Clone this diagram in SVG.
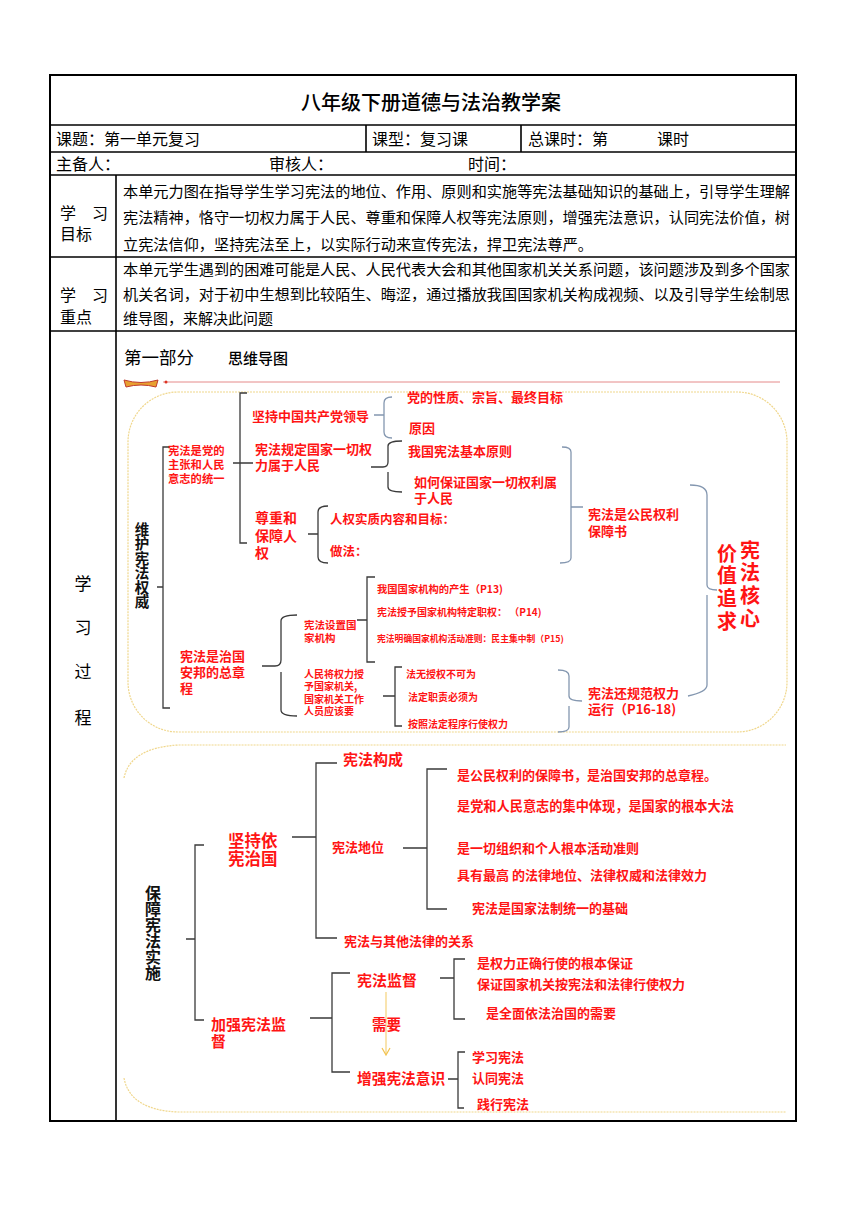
<svg xmlns="http://www.w3.org/2000/svg" width="860" height="1216" viewBox="0 0 860 1216">
<style>
text{font-family:"Noto Sans CJK SC","Liberation Sans",sans-serif;dominant-baseline:central}
.t{fill:#000;font-size:15px}
.hd{fill:#000;font-size:16px}
.r{fill:#ff1414;font-weight:700}
.k{fill:#111;font-weight:700}
.v{writing-mode:vertical-rl;text-orientation:upright;dominant-baseline:central}
.bk{fill:none;stroke:#3a3a3a;stroke-width:1.3}
.bb{fill:none;stroke:#8497b0;stroke-width:1.3}
.frame{fill:none;stroke:#f0d78c;stroke-width:1.2;stroke-dasharray:2 1}
.grid{stroke:#000;stroke-width:1.6}
</style>
<rect width="860" height="1216" fill="#fff"/>

<g id="table">
<rect x="50" y="75" width="746" height="1046" fill="none" stroke="#000" stroke-width="2"/>
<line class="grid" x1="50" y1="125" x2="796" y2="125"/>
<line class="grid" x1="50" y1="152" x2="796" y2="152"/>
<line class="grid" x1="50" y1="175" x2="796" y2="175"/>
<line class="grid" x1="50" y1="257" x2="796" y2="257"/>
<line class="grid" x1="50" y1="331" x2="796" y2="331"/>
<line class="grid" x1="116" y1="175" x2="116" y2="1121"/>
<line class="grid" x1="366" y1="125" x2="366" y2="152"/>
<line class="grid" x1="521" y1="125" x2="521" y2="152"/>
<text x="431" y="101" text-anchor="middle" style="font-size:20px;fill:#000;font-weight:500">八年级下册道德与法治教学案</text>
<text class="hd" x="56" y="138">课题：第一单元复习</text>
<text class="hd" x="372" y="138">课型：复习课</text>
<text class="hd" x="528" y="138">总课时：第</text>
<text class="hd" x="657" y="138">课时</text>
<text class="hd" x="56" y="163">主备人：</text>
<text class="hd" x="269" y="163">审核人：</text>
<text class="hd" x="468" y="163">时间：</text>
<text class="hd" x="60" y="212">学<tspan x="92">习</tspan><tspan x="60" dy="21">目标</tspan></text>
<text class="hd" x="60" y="294">学<tspan x="92">习</tspan><tspan x="60" dy="22">重点</tspan></text>
<text class="t" x="123" y="190" textLength="667" lengthAdjust="spacingAndGlyphs">本单元力图在指导学生学习宪法的地位、作用、原则和实施等宪法基础知识的基础上，引导学生理解</text>
<text class="t" x="123" y="216" textLength="667" lengthAdjust="spacingAndGlyphs">宪法精神，恪守一切权力属于人民、尊重和保障人权等宪法原则，增强宪法意识，认同宪法价值，树</text>
<text class="t" x="123" y="243" textLength="470" lengthAdjust="spacingAndGlyphs">立宪法信仰，坚持宪法至上，以实际行动来宣传宪法，捍卫宪法尊严。</text>
<text class="t" x="123" y="268" textLength="667" lengthAdjust="spacingAndGlyphs">本单元学生遇到的困难可能是人民、人民代表大会和其他国家机关关系问题，该问题涉及到多个国家</text>
<text class="t" x="123" y="293" textLength="667" lengthAdjust="spacingAndGlyphs">机关名词，对于初中生想到比较陌生、晦涩，通过播放我国国家机关构成视频、以及引导学生绘制思</text>
<text class="t" x="123" y="317">维导图，来解决此问题</text>
<text x="83" y="582" text-anchor="middle" style="font-size:17px;fill:#000">学</text>
<text x="83" y="626" text-anchor="middle" style="font-size:17px;fill:#000">习</text>
<text x="83" y="670" text-anchor="middle" style="font-size:17px;fill:#000">过</text>
<text x="83" y="716" text-anchor="middle" style="font-size:17px;fill:#000">程</text>
<text x="124" y="356" style="font-size:17.5px;fill:#000">第一部分</text>
<text x="228" y="357" style="font-size:15px;fill:#000;font-weight:500">思维导图</text>
</g>

<g id="decor">
<line x1="163" y1="382" x2="780" y2="382" stroke="#e58a8a" stroke-width="1"/>
<path d="M124,380 L126,387 Q141,383 156,387 L158,380 Q141,385 124,380 Z" fill="#e8a030" stroke="#c0392b" stroke-width="1"/>
<circle cx="166" cy="382" r="1.5" fill="#d32"/>
<rect class="frame" x="128" y="392" width="659" height="340" rx="50" ry="50"/>
<path class="frame" d="M124,778 Q130,748 178,745 L786,745"/>
<path class="frame" d="M124,1078 Q130,1110 178,1112 L786,1112"/>
</g>

<g id="connectors">
<path class="bk" d="M170,447 L163,447 L163,708 L170,708 M157,587 L163,587"/>
<path class="bk" d="M247,393 L240,393 L240,543 L247,543 M233,463 L253,463"/>
<path class="bb" d="M374,415 L384,415 M392,397 Q384,397 384,403 L384,432 Q384,438 392,438"/>
<path class="bk" d="M371,467 L383,467 Q388,467 388,462 L388,446 Q388,441 402,441 M388,472 L388,487 Q388,492 402,492"/>
<path class="bk" d="M308,534 L318,534 M328,506 Q318,506 318,512 L318,557 Q318,563 328,563"/>
<path class="bb" d="M562,447 Q571,447 571,452 L571,558 Q571,563 560,563 M571,507 L583,507"/>
<path class="bb" d="M690,485 Q707,485 707,495 L707,585 Q707,590 717,590 M707,595 L707,685 Q707,692 688,696"/>
<path class="bk" d="M262,666 L275,666 Q281,666 281,660 L281,621 Q281,615 297,615 M281,672 L281,710 Q281,716 297,716"/>
<path class="bk" d="M357,620 L367,620 M375,577 L367,577 L367,662 L375,662"/>
<path class="bk" d="M383,696 L395,696 M402,667 L395,667 L395,726 L402,726"/>
<path class="bb" d="M558,670 Q569,670 569,676 L569,696 Q569,701 582,701 M569,706 L569,727 Q569,732 558,732"/>
<path class="bk" d="M204,845 L195,845 L195,1020 L204,1020 M186,939 L195,939"/>
<path class="bk" d="M292,837 L316,837 M337,763 L316,763 L316,938 L337,938"/>
<path class="bk" d="M403,848 L427,848 M447,769 L427,769 L427,909 L447,909"/>
<path class="bk" d="M310,1018 L332,1018 M350,973 L332,973 L332,1072 L350,1072"/>
<path class="bk" d="M440,978 L454,978 M465,959 L454,959 L454,1019 L465,1019"/>
<path class="bk" d="M448,1079 L458,1079 M465,1052 L458,1052 L458,1108 L464,1108"/>
<line x1="386" y1="992" x2="386" y2="1054" stroke="#f5d27a" stroke-width="1.2"/>
<path d="M382,1048 L386,1055 L390,1048" fill="none" stroke="#f2c24f" stroke-width="1.2"/>
</g>

<g id="n-weihu"><text class="k v" x="142" y="522" style="font-size:14.5px">维护宪法权威</text></g>
<g id="n-dangzhuzhang"><text class="r" x="168" y="450" style="font-size:11.3px">宪法是党的<tspan x="168" dy="14">主张和人民</tspan><tspan x="168" dy="14">意志的统一</tspan></text></g>
<g id="n-jianchi"><text class="r" x="252" y="415" style="font-size:13px">坚持中国共产党领导</text></g>
<g id="n-xingzhi"><text class="r" x="407" y="396" style="font-size:13px">党的性质、宗旨、最终目标</text></g>
<g id="n-yuanyin"><text class="r" x="409" y="427" style="font-size:13px">原因</text></g>
<g id="n-guiding"><text class="r" x="255" y="448" style="font-size:13px">宪法规定国家一切权<tspan x="255" dy="16">力属于人民</tspan></text></g>
<g id="n-yuanze"><text class="r" x="408" y="450" style="font-size:13px">我国宪法基本原则</text></g>
<g id="n-baozheng"><text class="r" x="414" y="481" style="font-size:13px">如何保证国家一切权利属<tspan x="414" dy="16">于人民</tspan></text></g>
<g id="n-renquan"><text class="r" x="255" y="517" style="font-size:14px">尊重和<tspan x="255" dy="18">保障人</tspan><tspan x="255" dy="17">权</tspan></text></g>
<g id="n-shizhi"><text class="r" x="330" y="518" style="font-size:12.5px">人权实质内容和目标：</text></g>
<g id="n-zuofa"><text class="r" x="330" y="550" style="font-size:12.5px">做法：</text></g>
<g id="n-baozhangshu"><text class="r" x="588" y="513" style="font-size:13px">宪法是公民权利<tspan x="588" dy="17">保障书</tspan></text></g>
<g id="n-jiazhi"><text class="r v" x="727" y="543" style="font-size:20px;letter-spacing:2.7px">价值追求</text></g>
<g id="n-hexin"><text class="r v" x="750" y="540" style="font-size:20px;letter-spacing:2.7px">宪法核心</text></g>
<g id="n-zongzhangcheng"><text class="r" x="180" y="655" style="font-size:13px">宪法是治国<tspan x="180" dy="16">安邦的总章</tspan><tspan x="180" dy="16">程</tspan></text></g>
<g id="n-shezhi"><text class="r" x="304" y="624" style="font-size:10.5px">宪法设置国<tspan x="304" dy="13">家机构</tspan></text></g>
<g id="n-shouyu"><text class="r" x="304" y="673" style="font-size:10px">人民将权力授<tspan x="304" dy="12.3">予国家机关,</tspan><tspan x="304" dy="12.3">国家机关工作</tspan><tspan x="304" dy="12.3">人员应该要</tspan></text></g>
<g id="n-p13"><text class="r" x="377" y="588" style="font-size:10.3px">我国国家机构的产生（P13)</text></g>
<g id="n-p14"><text class="r" x="377" y="611" style="font-size:10px">宪法授予国家机构特定职权：  （P14)</text></g>
<g id="n-p15"><text class="r" x="377" y="638" style="font-size:8.8px">宪法明确国家机构活动准则：民主集中制（P15)</text></g>
<g id="n-fawu"><text class="r" x="406" y="673" style="font-size:10px">法无授权不可为</text></g>
<g id="n-fading"><text class="r" x="408" y="696" style="font-size:10px">法定职责必须为</text></g>
<g id="n-anzhao"><text class="r" x="408" y="723" style="font-size:10px">按照法定程序行使权力</text></g>
<g id="n-guifan"><text class="r" x="588" y="692" style="font-size:13px">宪法还规范权力<tspan x="588" dy="16">运行（P16-18)</tspan></text></g>

<g id="n-baozhang"><text class="k v" x="153" y="885" style="font-size:16px">保障宪法实施</text></g>
<g id="n-yixian"><text class="r" x="228" y="840" style="font-size:16.5px">坚持依<tspan x="228" dy="18">宪治国</tspan></text></g>
<g id="n-goucheng"><text class="r" x="343" y="758" style="font-size:15px">宪法构成</text></g>
<g id="n-diwei"><text class="r" x="332" y="846" style="font-size:13px">宪法地位</text></g>
<g id="n-dw1"><text class="r" x="457" y="774" style="font-size:13px">是公民权利的保障书，是治国安邦的总章程。</text></g>
<g id="n-dw2"><text class="r" x="457" y="805" style="font-size:13.2px">是党和人民意志的集中体现，是国家的根本大法</text></g>
<g id="n-dw3"><text class="r" x="457" y="847" style="font-size:13px">是一切组织和个人根本活动准则</text></g>
<g id="n-dw4"><text class="r" x="457" y="874" style="font-size:13px">具有最高 的法律地位、法律权威和法律效力</text></g>
<g id="n-dw5"><text class="r" x="472" y="907" style="font-size:13px">宪法是国家法制统一的基础</text></g>
<g id="n-guanxi"><text class="r" x="344" y="940" style="font-size:13px">宪法与其他法律的关系</text></g>
<g id="n-jiandu"><text class="r" x="211" y="1023" style="font-size:15px">加强宪法监<tspan x="211" dy="17">督</tspan></text></g>
<g id="n-xfjd"><text class="r" x="357" y="979" style="font-size:15px">宪法监督</text></g>
<g id="n-xuyao"><text class="r" x="372" y="1023" style="font-size:14.5px">需要</text></g>
<g id="n-yishi"><text class="r" x="357" y="1077" style="font-size:14.7px">增强宪法意识</text></g>
<g id="n-jd1"><text class="r" x="477" y="962" style="font-size:13px">是权力正确行使的根本保证</text></g>
<g id="n-jd2"><text class="r" x="477" y="983" style="font-size:13px">保证国家机关按宪法和法律行使权力</text></g>
<g id="n-jd3"><text class="r" x="486" y="1012" style="font-size:13px">是全面依法治国的需要</text></g>
<g id="n-ys1"><text class="r" x="472" y="1056" style="font-size:13px">学习宪法</text></g>
<g id="n-ys2"><text class="r" x="472" y="1077" style="font-size:13px">认同宪法</text></g>
<g id="n-ys3"><text class="r" x="477" y="1103" style="font-size:13px">践行宪法</text></g>
</svg>
